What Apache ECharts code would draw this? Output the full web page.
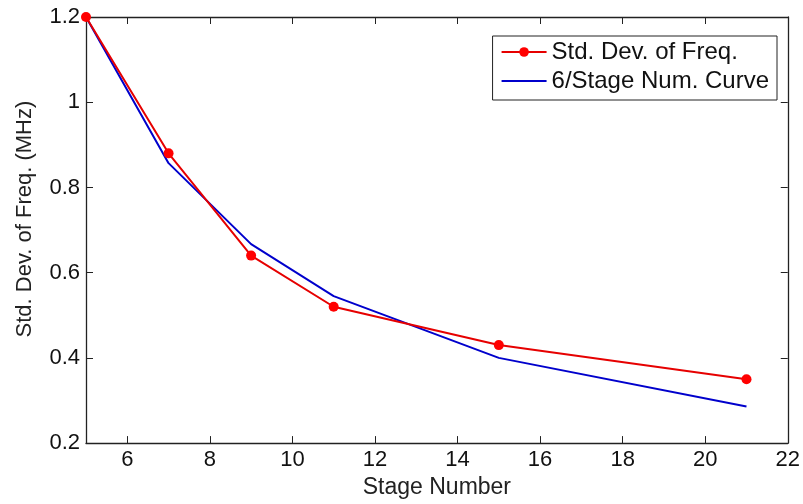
<!DOCTYPE html>
<html>
<head>
<meta charset="utf-8">
<script src="https://cdn.jsdelivr.net/npm/echarts@6/dist/echarts.min.js"></script>
<style>
  html, body { margin: 0; padding: 0; background: #fff; }
  #chart { width: 803px; height: 504px; }
</style>
</head>
<body>
<div id="chart"></div>
<script>
var stages = [5, 7, 9, 11, 15, 21];
var stdDev = [1.2, 0.88, 0.64, 0.52, 0.43, 0.35];
var curve = [1.2, 0.857, 0.667, 0.545, 0.4, 0.286];
var xTicks = [6, 8, 10, 12, 14, 16, 18, 20, 22];

var font = "Liberation Sans, Arial, sans-serif";
var axisCol = "#222";

function pairs(xs, ys) {
  return xs.map(function (x, i) { return [x, ys[i]]; });
}

var chart = echarts.init(document.getElementById("chart"));
chart.setOption({
  animation: false,
  grid: { left: 86, top: 17, right: 15, bottom: 59 },
  legend: {
    orient: "vertical",
    right: 26,
    top: 36,
    padding: [4, 8, 7, 8],
    itemGap: 5,
    itemWidth: 45,
    itemHeight: 12,
    borderColor: "#222",
    borderWidth: 1,
    backgroundColor: "#fff",
    textStyle: { fontFamily: font, fontSize: 24, color: "#111" },
    data: [
      { name: "Std. Dev. of Freq." },
      { name: "6/Stage Num. Curve", itemStyle: { color: "rgba(0,0,0,0)", borderWidth: 0 } }
    ]
  },
  xAxis: [
    {
      type: "value", min: 5, max: 22,
      name: "Stage Number", nameLocation: "middle", nameGap: 31,
      nameTextStyle: { fontFamily: font, fontSize: 23, color: "#222" },
      axisLine: { lineStyle: { color: axisCol, width: 1.3 } },
      axisTick: { inside: true, length: 7, customValues: xTicks, lineStyle: { color: axisCol } },
      axisLabel: { customValues: xTicks, fontFamily: font, fontSize: 22, color: "#111", margin: 6 },
      splitLine: { show: false }
    },
    {
      type: "value", min: 5, max: 22, position: "top",
      axisLine: { lineStyle: { color: axisCol, width: 1.3 } },
      axisTick: { inside: true, length: 7, customValues: xTicks, lineStyle: { color: axisCol } },
      axisLabel: { show: false },
      splitLine: { show: false }
    }
  ],
  yAxis: [
    {
      type: "value", min: 0.2, max: 1.2, interval: 0.2,
      name: "Std. Dev. of Freq. (MHz)", nameLocation: "middle", nameGap: 50,
      nameTextStyle: { fontFamily: font, fontSize: 22, color: "#222", padding: [0, 0, 0, 22] },
      axisLine: { show: true, lineStyle: { color: axisCol, width: 1.3 } },
      axisTick: { show: true, inside: true, length: 7, lineStyle: { color: axisCol } },
      axisLabel: {
        fontFamily: font, fontSize: 22, color: "#111", margin: 6,
        formatter: function (v) { return Math.abs(v - 1) < 1e-9 ? "1" : v.toFixed(1); }
      },
      splitLine: { show: false }
    },
    {
      type: "value", min: 0.2, max: 1.2, interval: 0.2, position: "right",
      axisLine: { show: true, lineStyle: { color: axisCol, width: 1.3 } },
      axisTick: { show: true, inside: true, length: 7, lineStyle: { color: axisCol } },
      axisLabel: { show: false },
      splitLine: { show: false }
    }
  ],
  series: [
    {
      name: "Std. Dev. of Freq.",
      type: "line",
      data: pairs(stages, stdDev),
      symbol: "circle",
      symbolSize: 10,
      lineStyle: { color: "#e60000", width: 2 },
      itemStyle: { color: "#ff0000" },
      z: 3
    },
    {
      name: "6/Stage Num. Curve",
      type: "line",
      data: pairs(stages, curve),
      symbol: "none",
      lineStyle: { color: "#0000cc", width: 2 },
      itemStyle: { color: "#0000cc" },
      z: 2
    }
  ]
});
</script>
</body>
</html>
